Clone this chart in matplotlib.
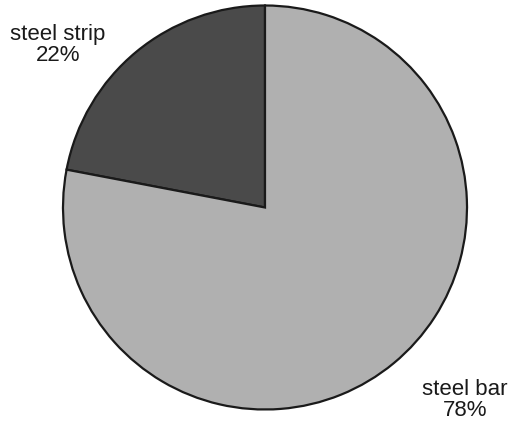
import matplotlib
matplotlib.use("Agg")
import matplotlib.pyplot as plt

labels = ["steel strip", "steel bar"]
shares = [22, 78]
colors = ["#4a4a4a", "#b0b0b0"]

fig = plt.figure(figsize=(5.13, 4.24), dpi=100)
# axes sized so the pie spans roughly 404 px across
ax = fig.add_axes([63 / 513, 14.5 / 424, 404 / 513, 404 / 424])
ax.pie(shares, colors=colors, startangle=90, counterclock=True,
       wedgeprops=dict(edgecolor="#1a1a1a", linewidth=1.6))
ax.set_aspect("equal")
ax.set_xlim(-1, 1)
ax.set_ylim(-1, 1)
ax.axis("off")

font = dict(family="Liberation Sans", fontsize=16, color="#1a1a1a",
            ha="center", va="center")
fig.text(58 / 513, 1 - 45 / 424, f"{labels[0]}\n{shares[0]}%", linespacing=1.0, **font)
fig.text(465 / 513, 1 - 400 / 424, f"{labels[1]}\n{shares[1]}%", linespacing=1.0, **font)

fig.savefig("out.png", dpi=100)
